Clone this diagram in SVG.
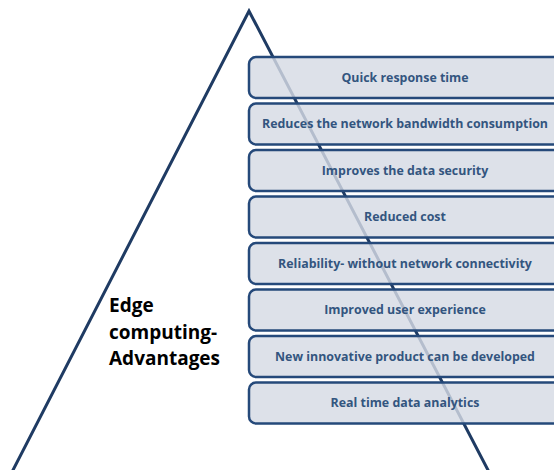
<svg xmlns="http://www.w3.org/2000/svg" width="554" height="470" viewBox="0 0 554 470">
<style>
.tri{fill:none;stroke:#1f3b63;stroke-width:3}
.box rect{fill:#d5dae4;fill-opacity:0.82;stroke:#25497a;stroke-width:2.5}
.box text{font-family:"Open Sans","Liberation Sans",sans-serif;font-weight:bold;font-size:12.4px;fill:#33557f;text-anchor:middle}
.title{font-family:"Open Sans","Liberation Sans",sans-serif;font-weight:bold;font-size:19px;fill:#000}
</style>
<rect width="554" height="470" fill="#fff"/>
<g id="connectors">
<polyline class="tri" points="12,472 249,11 489,472"/>
</g>
<g id="title">
<text class="title" x="109" y="312">Edge</text>
<text class="title" x="109" y="338.5">computing-</text>
<text class="title" x="109" y="365">Advantages</text>
</g>
<g id="b1" class="box"><rect x="249" y="57" width="320" height="41" rx="7"/><text x="405" y="81.5">Quick  response time</text></g>
<g id="b2" class="box"><rect x="249" y="103.5" width="320" height="41" rx="7"/><text x="405" y="128">Reduces the network bandwidth consumption</text></g>
<g id="b3" class="box"><rect x="249" y="150" width="320" height="41" rx="7"/><text x="405" y="174.5">Improves the data security</text></g>
<g id="b4" class="box"><rect x="249" y="196.5" width="320" height="41" rx="7"/><text x="405" y="221">Reduced cost</text></g>
<g id="b5" class="box"><rect x="249" y="243" width="320" height="41" rx="7"/><text x="405" y="267.5">Reliability-  without network connectivity</text></g>
<g id="b6" class="box"><rect x="249" y="289.5" width="320" height="41" rx="7"/><text x="405" y="314">Improved user experience</text></g>
<g id="b7" class="box"><rect x="249" y="336" width="320" height="41" rx="7"/><text x="405" y="360.5">New innovative  product can be developed</text></g>
<g id="b8" class="box"><rect x="249" y="382.5" width="320" height="41" rx="7"/><text x="405" y="407">Real time data analytics</text></g>
</svg>
